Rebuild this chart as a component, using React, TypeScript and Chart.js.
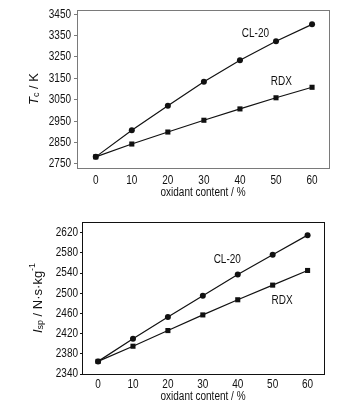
import React, { useEffect, useRef } from 'react';
import { Chart, registerables } from 'chart.js';

Chart.register(...registerables);

const FONT = '"Liberation Sans", Arial, Helvetica, sans-serif';
const SX = 0.8; // horizontal condensing of the narrow font

// ---- data ----
const oxidantContent = [0, 10, 20, 30, 40, 50, 60];
const tcCL20 = [2783, 2907, 3022, 3134, 3234, 3323, 3402];
const tcRDX = [2783, 2843, 2899, 2954, 3007, 3059, 3108];
const ispCL20 = [2365, 2410, 2453, 2495, 2537, 2576, 2615];
const ispRDX = [2365, 2395, 2426, 2457, 2487, 2516, 2545];

const xTicks = [0, 10, 20, 30, 40, 50, 60];
const tcTicks = [2750, 2850, 2950, 3050, 3150, 3250, 3350, 3450];
const ispTicks = [2340, 2380, 2420, 2460, 2500, 2540, 2580, 2620];

const seriesNames = ['CL-20', 'RDX'];
const xTitle = 'oxidant content / %';

type Seg = { t: string; italic?: boolean; sub?: boolean; sup?: boolean };

function narrowText(ctx: CanvasRenderingContext2D, text: string, x: number, y: number, align: CanvasTextAlign, baseline: CanvasTextBaseline) {
  ctx.save();
  ctx.translate(x, y);
  ctx.scale(SX, 1);
  ctx.textAlign = align;
  ctx.textBaseline = baseline;
  ctx.fillText(text, 0, 0);
  ctx.restore();
}

const annotPlugin = {
  id: 'annot',
  beforeDatasetsDraw(chart: any, _args: any, opts: any) {
    const { ctx, chartArea } = chart;
    ctx.save();
    ctx.strokeStyle = opts.frameColor;
    ctx.lineWidth = 1;
    ctx.strokeRect(
      Math.round(chartArea.left) + 0.5,
      Math.round(chartArea.top) + 0.5,
      Math.round(chartArea.right - chartArea.left),
      Math.round(chartArea.bottom - chartArea.top)
    );
    ctx.restore();
  },
  afterDatasetsDraw(chart: any, _args: any, opts: any) {
    const { ctx, chartArea, scales } = chart;
    ctx.save();
    ctx.fillStyle = '#111';
    ctx.font = `12.5px ${FONT}`;
    // tick labels
    for (const v of opts.yTicks) {
      narrowText(ctx, String(v), chartArea.left - opts.yLabelGap, scales.y.getPixelForValue(v), 'right', 'middle');
    }
    for (const v of opts.xTicks) {
      narrowText(ctx, String(v), scales.x.getPixelForValue(v), chartArea.bottom + opts.xLabelGap, 'center', 'top');
    }
    // series labels in data coords
    for (const l of opts.labels) {
      narrowText(ctx, l.text, scales.x.getPixelForValue(l.x), scales.y.getPixelForValue(l.y), 'center', 'middle');
    }
    // x title
    narrowText(ctx, opts.xTitle, (chartArea.left + chartArea.right) / 2, opts.xTitleY, 'center', 'middle');
    // y title (rich, rotated)
    const segs: Seg[] = opts.yTitle;
    const base = 13;
    const fontFor = (s: Seg) => `${s.italic ? 'italic ' : ''}${s.sub || s.sup ? Math.round(base * 0.72) : base}px ${FONT}`;
    let total = 0;
    for (const s of segs) {
      ctx.font = fontFor(s);
      total += ctx.measureText(s.t).width;
    }
    const cy = (chartArea.top + chartArea.bottom) / 2;
    ctx.translate(opts.yTitleX, cy);
    ctx.rotate(-Math.PI / 2);
    ctx.textAlign = 'left';
    ctx.textBaseline = 'middle';
    let x = -total / 2;
    for (const s of segs) {
      ctx.font = fontFor(s);
      const dy = s.sub ? 3 : s.sup ? -5 : 0;
      ctx.fillText(s.t, x, dy);
      x += ctx.measureText(s.t).width;
    }
    ctx.restore();
  },
};

function makeConfig(p: {
  cl20: number[];
  rdx: number[];
  yTicks: number[];
  yMin: number;
  yMax: number;
  xMin: number;
  xMax: number;
  padTop: number;
  padRight: number;
  yWidth: number;
  xHeight: number;
  axisColor: string;
  yTickLen: number;
  yLabelGap: number;
  xLabelGap: number;
  labels: { text: string; x: number; y: number }[];
  yTitle: Seg[];
  yTitleX: number;
  xTitleY: number;
}): any {
  const pts = (arr: number[]) => oxidantContent.map((x, i) => ({ x, y: arr[i] }));
  return {
    type: 'line',
    data: {
      datasets: [
        {
          label: seriesNames[0],
          data: pts(p.cl20),
          borderColor: '#111',
          backgroundColor: '#111',
          borderWidth: 1.2,
          pointStyle: 'circle',
          pointRadius: 3,
          pointBorderWidth: 0,
        },
        {
          label: seriesNames[1],
          data: pts(p.rdx),
          borderColor: '#111',
          backgroundColor: '#111',
          borderWidth: 1.2,
          pointStyle: 'rect',
          pointRadius: 3.6,
          pointBorderWidth: 0,
        },
      ],
    },
    options: {
      responsive: false,
      animation: false,
      devicePixelRatio: 1,
      layout: { padding: { top: p.padTop, right: p.padRight, left: 0, bottom: 0 } },
      plugins: {
        legend: { display: false },
        tooltip: { enabled: false },
        annot: {
          frameColor: p.axisColor,
          labels: p.labels,
          yTitle: p.yTitle,
          yTitleX: p.yTitleX,
          xTitle,
          xTitleY: p.xTitleY,
          yTicks: p.yTicks,
          xTicks,
          yLabelGap: p.yLabelGap,
          xLabelGap: p.xLabelGap,
        },
      },
      scales: {
        x: {
          type: 'linear',
          min: p.xMin,
          max: p.xMax,
          afterBuildTicks: (s: any) => {
            s.ticks = xTicks.map((v) => ({ value: v }));
          },
          afterFit: (s: any) => {
            s.height = p.xHeight;
          },
          grid: { display: false, drawTicks: false },
          border: { display: false },
          ticks: { display: false },
        },
        y: {
          type: 'linear',
          min: p.yMin,
          max: p.yMax,
          afterBuildTicks: (s: any) => {
            s.ticks = p.yTicks.map((v) => ({ value: v }));
          },
          afterFit: (s: any) => {
            s.width = p.yWidth;
          },
          grid: {
            display: true,
            drawOnChartArea: false,
            drawTicks: true,
            tickLength: p.yTickLen,
            color: p.axisColor,
            lineWidth: 1,
          },
          border: { display: false },
          ticks: { display: false },
        },
      },
    },
    plugins: [annotPlugin],
  };
}

function ChartCanvas({ config, width, height, top }: { config: any; width: number; height: number; top: number }) {
  const ref = useRef<HTMLCanvasElement | null>(null);
  useEffect(() => {
    if (!ref.current) return;
    const chart = new Chart(ref.current, config);
    return () => chart.destroy();
  }, [config]);
  return (
    <canvas
      ref={ref}
      width={width}
      height={height}
      style={{ position: 'absolute', left: 0, top, width, height }}
    />
  );
}

const topConfig = makeConfig({
  cl20: tcCL20,
  rdx: tcRDX,
  yTicks: tcTicks,
  yMin: 2731,
  yMax: 3469,
  xMin: -5.2,
  xMax: 64.7,
  padTop: 10,
  padRight: 26,
  yWidth: 77,
  xHeight: 37,
  axisColor: '#7a7a7a',
  yTickLen: 3,
  yLabelGap: 6,
  xLabelGap: 6,
  labels: [
    { text: seriesNames[0], x: 44.3, y: 3361 },
    { text: seriesNames[1], x: 51.5, y: 3133 },
  ],
  yTitle: [{ t: 'T', italic: true }, { t: 'c', sub: true }, { t: ' / K' }],
  yTitleX: 34,
  xTitleY: 193,
});

const bottomConfig = makeConfig({
  cl20: ispCL20,
  rdx: ispRDX,
  yTicks: ispTicks,
  yMin: 2340,
  yMax: 2641,
  xMin: -4.6,
  xMax: 64.7,
  padTop: 17,
  padRight: 31,
  yWidth: 82,
  xHeight: 35,
  axisColor: '#111',
  yTickLen: 2,
  yLabelGap: 4,
  xLabelGap: 4,
  labels: [
    { text: seriesNames[0], x: 37, y: 2567 },
    { text: seriesNames[1], x: 52.7, y: 2486 },
  ],
  yTitle: [
    { t: 'I', italic: true },
    { t: 'sp', sub: true },
    { t: ' / N·s·kg' },
    { t: '-1', sup: true },
  ],
  yTitleX: 38,
  xTitleY: 192,
});

export default function App() {
  return (
    <div style={{ position: 'fixed', left: 0, top: 0, width: 355, height: 409, background: '#fff' }}>
      <ChartCanvas config={topConfig} width={355} height={205} top={0} />
      <ChartCanvas config={bottomConfig} width={355} height={204} top={205} />
    </div>
  );
}
